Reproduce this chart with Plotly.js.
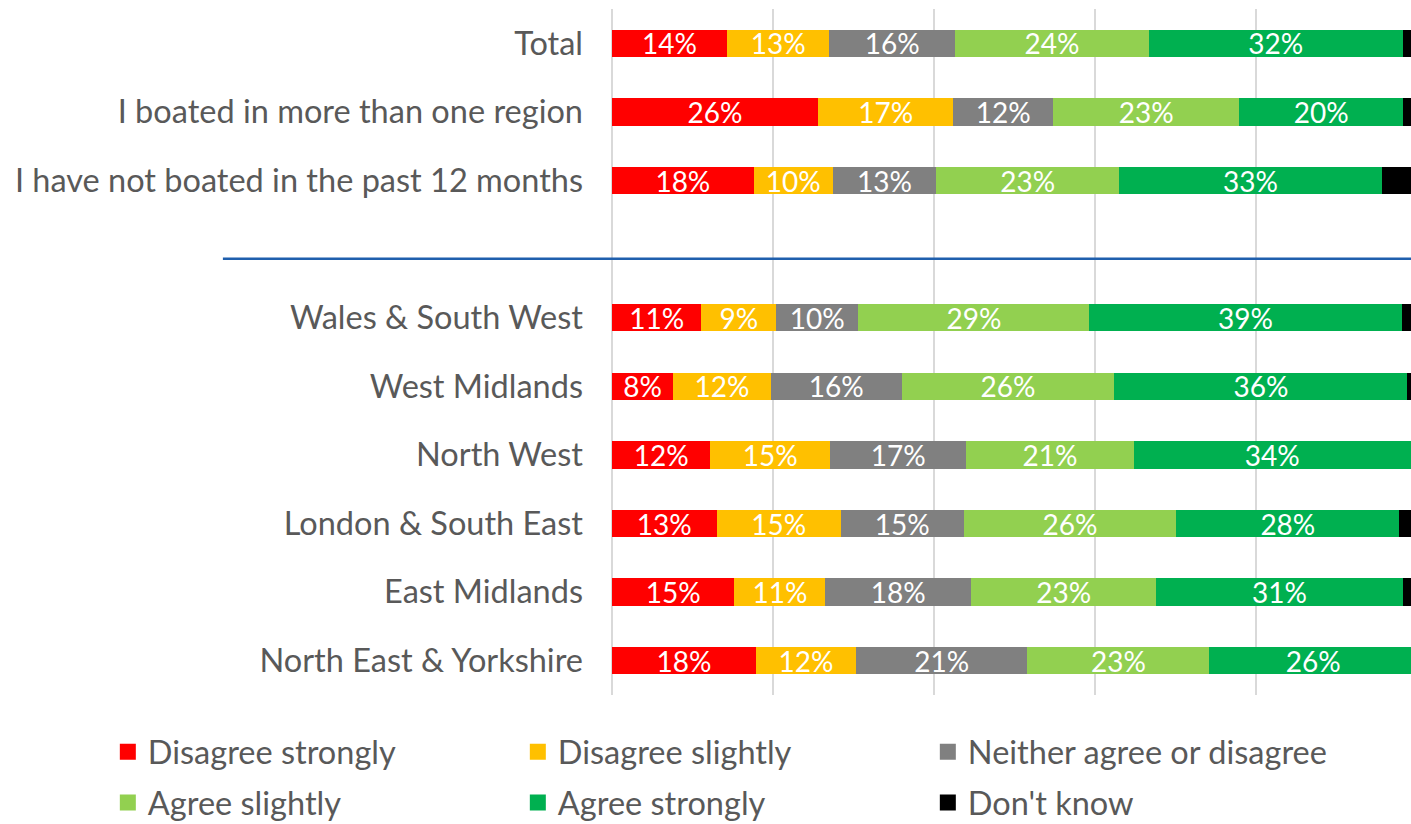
<!DOCTYPE html>
<html><head><meta charset="utf-8">
<script src="https://cdn.plot.ly/plotly-3.0.1.min.js"></script>
<style>html,body{margin:0;padding:0;background:#fff}#chart{width:1411px;height:824px}</style>
</head><body><div id="chart"></div>
<script>
// Categories, top to bottom
const categories = ["Total", "I boated in more than one region", "I have not boated in the past 12 months",
  "Wales & South West", "West Midlands", "North West", "London & South East", "East Midlands", "North East & Yorkshire"];
const spacer = " ";
const seriesNames = ["Disagree strongly", "Disagree slightly", "Neither agree or disagree", "Agree slightly", "Agree strongly", "Don't know"];
// Values in percent
const disagreeStrongly = [14.3, 25.6, 17.6, 11.1, 7.6, 12.2, 13.0, 15.2, 17.9];
const disagreeSlightly = [12.7, 16.8, 9.8, 9.3, 12.1, 14.9, 15.4, 11.3, 12.4];
const neither          = [15.6, 12.4, 12.9, 10.2, 16.3, 16.9, 15.3, 18.1, 21.3];
const agreeSlightly    = [24.1, 23.1, 22.7, 28.7, 26.4, 20.8, 26.4, 23.0, 22.6];
const agreeStrongly    = [31.5, 20.4, 32.6, 38.8, 36.4, 34.4, 27.7, 30.6, 25.8];
const dontKnow         = [1.8, 1.7, 4.4, 1.9, 1.2, 0.8, 2.2, 1.8, 0.0];
const seriesColors = ["#FF0000", "#FFC000", "#808080", "#92D050", "#00B050", "#000000"];

const allSeries = [disagreeStrongly, disagreeSlightly, neither, agreeSlightly, agreeStrongly, dontKnow];
const categoryOrder = categories.slice(0, 3).concat([spacer], categories.slice(3));
const FONT = "Lato, 'Open Sans', sans-serif";

const traces = [];
allSeries.forEach((vals, i) => {
  const isDK = i === 5;
  traces.push({
    type: "bar", orientation: "h", name: seriesNames[i],
    x: vals, y: categories,
    marker: {color: seriesColors[i], line: {width: 0}},
    text: isDK ? undefined : vals.map(v => Math.round(v) + "%"),
    textposition: isDK ? "none" : "inside",
    insidetextanchor: "middle",
    constraintext: "none",
    textfont: {family: FONT, size: 28, color: "#FFFFFF"},
    hoverinfo: "name+x",
    showlegend: false
  });
});
// Legend entries (two rows of three)
seriesNames.forEach((n, i) => {
  traces.push({
    type: "scatter", mode: "markers", name: n, x: [null], y: [null],
    marker: {symbol: "square", size: 16, color: seriesColors[i]},
    legend: i < 3 ? "legend" : "legend2",
    showlegend: true, hoverinfo: "skip"
  });
});

const legendCommon = {
  orientation: "h", xanchor: "left", yanchor: "middle", traceorder: "normal",
  font: {family: FONT, size: 32.5, color: "#595959"},
  entrywidth: 365, entrywidthmode: "pixels",
  bgcolor: "rgba(0,0,0,0)", borderwidth: 0, itemclick: false, itemdoubleclick: false
};

const layout = {
  width: 1411, height: 824,
  margin: {l: 612, r: 0, t: 9, b: 129, pad: 0, autoexpand: false},
  paper_bgcolor: "#FFFFFF", plot_bgcolor: "#FFFFFF",
  barmode: "stack", bargap: 0.6,
  font: {family: FONT, color: "#595959"},
  xaxis: {
    range: [0, 99.25], dtick: 20, tick0: 0, showticklabels: false,
    showgrid: true, gridcolor: "#D9D9D9", gridwidth: 1.5,
    zeroline: true, zerolinecolor: "#D9D9D9", zerolinewidth: 1.5,
    showline: false, ticks: "", fixedrange: true
  },
  yaxis: {
    type: "category", categoryorder: "array", categoryarray: categoryOrder,
    autorange: "reversed", showgrid: false, zeroline: false, showline: false, ticks: "",
    tickfont: {family: FONT, size: 32.5, color: "#595959"},
    ticklabelstandoff: 28, fixedrange: true, automargin: false
  },
  shapes: [{
    type: "line", xref: "paper", yref: "y",
    x0: -0.487, x1: 1, y0: 3.14, y1: 3.14,
    line: {color: "#1F5FAD", width: 2.5}
  }],
  legend: Object.assign({x: -0.631, y: -0.0831}, legendCommon),
  legend2: Object.assign({x: -0.631, y: -0.1574}, legendCommon),
  showlegend: true
};

Plotly.newPlot("chart", traces, layout, {displayModeBar: false});
</script>
</body></html>
